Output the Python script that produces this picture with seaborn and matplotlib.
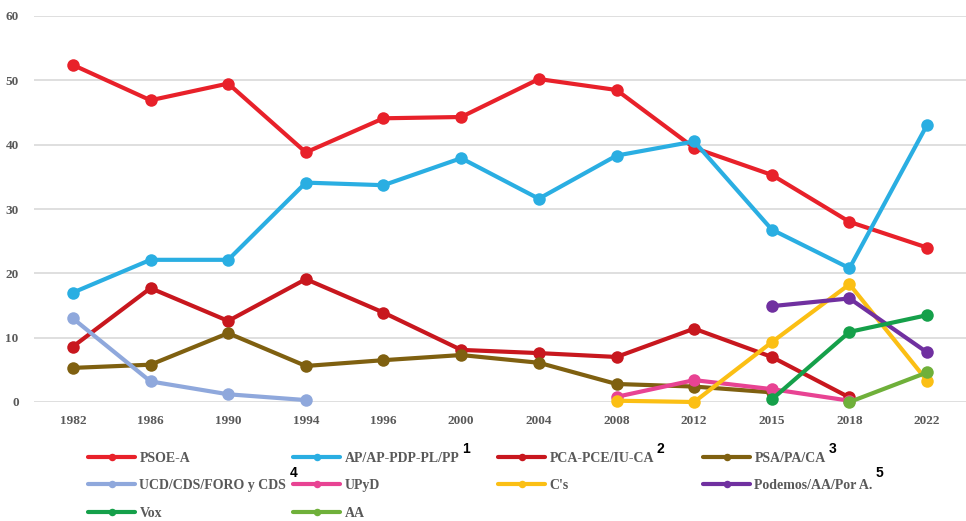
import numpy as np
import pandas as pd
import matplotlib
matplotlib.use('Agg')
import matplotlib.pyplot as plt
import seaborn as sns

years = ['1982', '1986', '1990', '1994', '1996', '2000', '2004', '2008', '2012', '2015', '2018', '2022']
nan = np.nan

psoe = [52.4, 46.9, 49.5, 38.8, 44.1, 44.3, 50.2, 48.5, 39.5, 35.3, 28.0, 24.0]
pp = [17.0, 22.1, 22.1, 34.1, 33.7, 37.9, 31.6, 38.3, 40.5, 26.8, 20.8, 43.1]
iu = [8.6, 17.7, 12.6, 19.1, 13.9, 8.1, 7.6, 7.0, 11.4, 7.0, 0.7, nan]
pa = [5.3, 5.8, 10.7, 5.6, 6.5, 7.3, 6.1, 2.8, 2.4, 1.5, nan, nan]
ucd = [13.0, 3.2, 1.2, 0.3, nan, nan, nan, nan, nan, nan, nan, nan]
upyd = [nan, nan, nan, nan, nan, nan, nan, 0.8, 3.4, 2.0, 0.2, nan]
cs = [nan, nan, nan, nan, nan, nan, nan, 0.2, 0.0, 9.3, 18.3, 3.3]
podemos = [nan, nan, nan, nan, nan, nan, nan, nan, nan, 14.9, 16.1, 7.7]
vox = [nan, nan, nan, nan, nan, nan, nan, nan, nan, 0.4, 10.9, 13.5]
aa = [nan, nan, nan, nan, nan, nan, nan, nan, nan, nan, 0.0, 4.6]

labels = ['PSOE-A', 'AP/AP-PDP-PL/PP', 'PCA-PCE/IU-CA', 'PSA/PA/CA', 'UCD/CDS/FORO y CDS',
          'UPyD', "C's", 'Podemos/AA/Por A.', 'Vox', 'AA']
series = [psoe, pp, iu, pa, ucd, upyd, cs, podemos, vox, aa]
colors = ['#e8212a', '#2aaee2', '#c8171e', '#7f6010', '#8fa8dc', '#e84393', '#fbbf14',
          '#7030a0', '#15a04a', '#6fb03a']
notes = {'AP/AP-PDP-PL/PP': '1', 'PCA-PCE/IU-CA': '2', 'PSA/PA/CA': '3',
         'UCD/CDS/FORO y CDS': '4', 'Podemos/AA/Por A.': '5'}

sns.set_style('white')
plt.rcParams['font.family'] = ['Liberation Serif', 'DejaVu Serif']

fig = plt.figure(figsize=(9.66, 5.21), dpi=100)
ax = fig.add_axes([34 / 966, 119 / 521, 932 / 966, 386 / 521])

pos = np.arange(len(years))
handles = {}
for name, vals, col in zip(labels, series, colors):
    df = pd.DataFrame({'pos': pos, 'val': vals}).dropna()
    sns.lineplot(data=df, x='pos', y='val', color=col, marker='o', markersize=9,
                 markeredgewidth=0, linewidth=3.0, ax=ax, clip_on=False, label=name,
                 legend=False)
    handles[name] = ax.lines[-1]

ax.set_xlim(-0.5, len(years) - 0.5)
ax.set_ylim(0, 60)
ax.set_yticks(range(0, 61, 10))
ax.set_xticks(pos)
ax.set_xticklabels(years)
ax.set_xlabel('')
ax.set_ylabel('')
ax.yaxis.grid(True, color='#d9d9d9', linewidth=1.2)
ax.set_axisbelow(True)
for s in ax.spines.values():
    s.set_visible(False)
ax.tick_params(axis='both', length=0, labelsize=9.5, labelcolor='#595959')
ax.tick_params(axis='y', pad=11)
ax.tick_params(axis='x', pad=9)
for t in ax.get_xticklabels() + ax.get_yticklabels():
    t.set_fontweight('bold')

# legend: four fixed-width columns like the original
columns = [['PSOE-A', 'UCD/CDS/FORO y CDS', 'Vox'],
           ['AP/AP-PDP-PL/PP', 'UPyD', 'AA'],
           ['PCA-PCE/IU-CA', "C's"],
           ['PSA/PA/CA', 'Podemos/AA/Por A.']]
col_x = [88, 293, 498, 703]
legend_texts = []
for names, x in zip(columns, col_x):
    leg = fig.legend([handles[n] for n in names], names, loc='upper left',
                     bbox_to_anchor=(x / 966, 1 - 452 / 521), bbox_transform=fig.transFigure,
                     frameon=False, borderpad=0, borderaxespad=0, handlelength=3.4,
                     handletextpad=0.3, labelspacing=1.03, markerscale=0.6,
                     prop={'family': 'Liberation Serif', 'weight': 'bold', 'size': 10})
    for txt in leg.get_texts():
        txt.set_color('#595959')
        legend_texts.append(txt)

# footnote numbers next to some legend entries
fig.canvas.draw()
renderer = fig.canvas.get_renderer()
for txt in legend_texts:
    n = txt.get_text()
    if n in notes:
        bb = txt.get_window_extent(renderer)
        up = 9 if n in ('UCD/CDS/FORO y CDS', 'Podemos/AA/Por A.') else 6
        fig.text((bb.x1 + 3) / 966, (bb.y1 - 10 + up) / 521, notes[n],
                 fontsize=10, fontweight='bold', family='Liberation Sans', color='black',
                 ha='left', va='bottom')

fig.savefig('out.png', dpi=100)
